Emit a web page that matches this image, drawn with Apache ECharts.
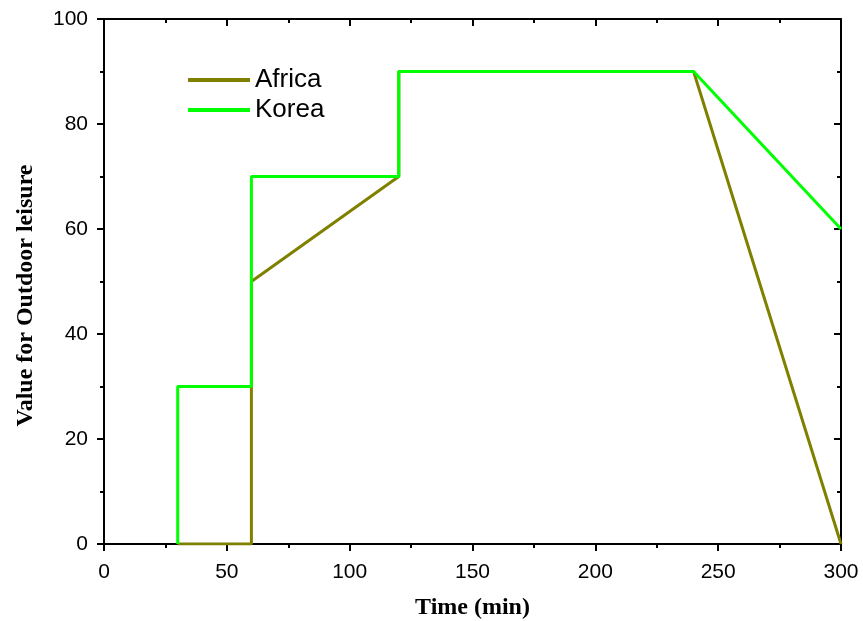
<!DOCTYPE html>
<html><head><meta charset="utf-8">
<script src="https://cdn.jsdelivr.net/npm/echarts@6/dist/echarts.min.js"></script>
<style>html,body{margin:0;padding:0;background:#fff}#c{width:863px;height:621px}</style>
</head><body><div id="c"></div>
<script>
const africaX = [30, 60, 60, 120, 120, 240, 300];
const africaY = [0, 0, 50, 70, 90, 90, 0];
const koreaX = [30, 30, 60, 60, 120, 120, 240, 300];
const koreaY = [0, 30, 30, 70, 70, 90, 90, 60];
const seriesNames = ['Africa', 'Korea'];
const seriesColors = ['#808000', '#00ff00'];
const xTitle = 'Time (min)';
const yTitle = 'Value for Outdoor leisure';

const pairs = (xs, ys) => xs.map((x, i) => [x, ys[i]]);
const axisLine = {show: true, onZero: false, lineStyle: {color: '#000', width: 2}};
const tick = (inside) => ({show: true, inside: inside, length: 7, lineStyle: {width: 2, color: '#000'}});
const minor = {show: true, splitNumber: 2, length: 4, lineStyle: {width: 2, color: '#000'}};
const labelFont = {fontFamily: 'Liberation Sans', fontSize: 21, color: '#000'};
const titleFont = {fontFamily: 'Liberation Serif', fontWeight: 'bold', fontSize: 24, color: '#000'};
const chart = echarts.init(document.getElementById('c'));
chart.setOption({
  animation: false,
  backgroundColor: '#fff',
  grid: {left: 104, right: 22, top: 19, bottom: 77, containLabel: false, outerBoundsMode: 'none'},
  legend: {
    left: 183, top: 62, orient: 'vertical', itemGap: 4,
    icon: 'rect', itemWidth: 62, itemHeight: 4,
    textStyle: {fontFamily: 'Liberation Sans', fontSize: 26, color: '#000', padding: [0, 0, 0, 0]},
    data: seriesNames
  },
  xAxis: [{
    type: 'value', min: 0, max: 300, interval: 50, position: 'bottom',
    name: xTitle, nameLocation: 'middle', nameGap: 52, nameTextStyle: titleFont,
    axisLine: axisLine, axisTick: tick(false), minorTick: minor,
    axisLabel: Object.assign({margin: 18}, labelFont),
    splitLine: {show: false}
  }, {
    type: 'value', min: 0, max: 300, interval: 50, position: 'top',
    axisLine: axisLine, axisTick: tick(true), minorTick: minor,
    axisLabel: {show: false}, splitLine: {show: false}
  }],
  yAxis: [{
    type: 'value', min: 0, max: 100, interval: 20, position: 'left',
    name: yTitle, nameLocation: 'middle', nameGap: 66, nameRotate: 90,
    nameTextStyle: Object.assign({padding: [0, 28, 0, 0]}, titleFont),
    axisLine: axisLine, axisTick: tick(false), minorTick: minor,
    axisLabel: Object.assign({margin: 16}, labelFont),
    splitLine: {show: false}
  }, {
    type: 'value', min: 0, max: 100, interval: 20, position: 'right',
    axisLine: axisLine, axisTick: tick(true), minorTick: minor,
    axisLabel: {show: false}, splitLine: {show: false}
  }],
  series: [{
    name: seriesNames[0], type: 'line', data: pairs(africaX, africaY),
    symbol: 'none', color: seriesColors[0], lineStyle: {width: 3, color: seriesColors[0]}
  }, {
    name: seriesNames[1], type: 'line', data: pairs(koreaX, koreaY),
    symbol: 'none', color: seriesColors[1], lineStyle: {width: 3, color: seriesColors[1]}
  }, {
    type: 'line', xAxisIndex: 1, yAxisIndex: 1, data: [], symbol: 'none', silent: true
  }]
});
</script></body></html>
